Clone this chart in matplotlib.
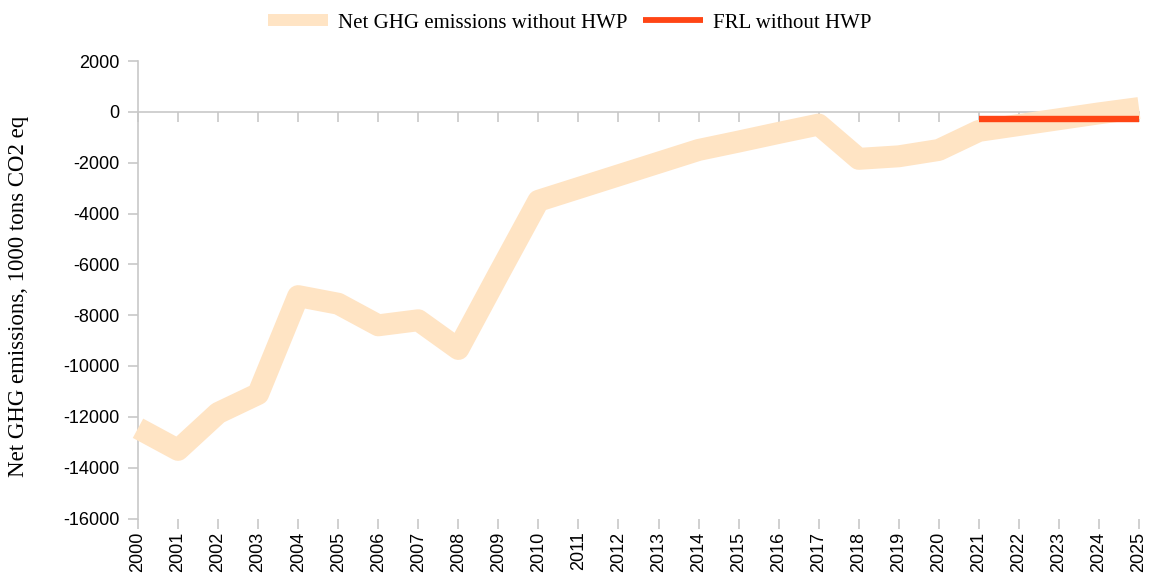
import matplotlib
matplotlib.use("Agg")
import matplotlib.pyplot as plt
from matplotlib.lines import Line2D

years = list(range(2000, 2026))
net_ghg = [-12450, -13300, -11850, -11100, -7250, -7550, -8400, -8200, -9330,
           -6400, -3500, -3000, -2500, -2000, -1500, -1170, -830, -500,
           -1850, -1750, -1500, -750, -520, -290, -60, 150]
frl_years = [2021, 2022, 2023, 2024, 2025]
frl = [-300, -300, -300, -300, -300]
yticks = list(range(-16000, 2001, 2000))

peach = '#FFE4C4'
red = '#FF4515'
grey = '#C8C8C8'
sans = 'Liberation Sans'
serif = 'Liberation Serif'

fig = plt.figure(figsize=(11.53, 5.81), dpi=100)
ax = fig.add_axes([138/1153, 1 - 518.5/581, (1139-138)/1153, (518.5-61)/581])

ax.plot(years, net_ghg, color=peach, lw=15.8, solid_joinstyle='round',
        solid_capstyle='butt', clip_on=False, zorder=3)
ax.plot(frl_years, frl, color=red, lw=4.6, solid_capstyle='butt',
        clip_on=False, zorder=4)

ax.set_xlim(2000, 2025)
ax.set_ylim(-16000, 2000)

for s in ['top', 'right']:
    ax.spines[s].set_visible(False)
ax.spines['bottom'].set_position(('data', 0))
for s in ['left', 'bottom']:
    ax.spines[s].set_color(grey)
    ax.spines[s].set_linewidth(1.2)

ax.set_yticks(yticks)
ax.set_yticklabels([str(v) for v in yticks], fontfamily=sans, fontsize=13)
ax.set_xticks(years)
ax.tick_params(axis='x', which='both', length=7.5, width=1.2, color=grey,
               labelbottom=False, direction='out')
ax.tick_params(axis='y', length=7.5, width=1.2, color=grey, pad=6)

sec = ax.secondary_xaxis(0.0)
sec.set_xticks(years)
sec.set_xticklabels([str(y) for y in years], rotation=90, fontfamily=sans,
                    fontsize=13)
sec.spines['bottom'].set_visible(False)
sec.tick_params(axis='x', length=7.5, width=1.2, color=grey, pad=2)

ax.set_ylabel('Net GHG emissions, 1000 tons CO2 eq', fontfamily=serif,
              fontsize=16.5)
ax.yaxis.set_label_coords(-0.109, 0.485)

handles = [Line2D([0], [0], color=peach, lw=8.6, solid_capstyle='butt'),
           Line2D([0], [0], color=red, lw=4.2, solid_capstyle='butt')]
fig.legend(handles, ['Net GHG emissions without HWP', 'FRL without HWP'],
           loc='upper center', bbox_to_anchor=(0.494, 1.01), ncol=2,
           frameon=False, prop={'family': serif, 'size': 15},
           handlelength=2.9, columnspacing=0.75, handletextpad=0.45)

fig.savefig('out.png', dpi=100)
